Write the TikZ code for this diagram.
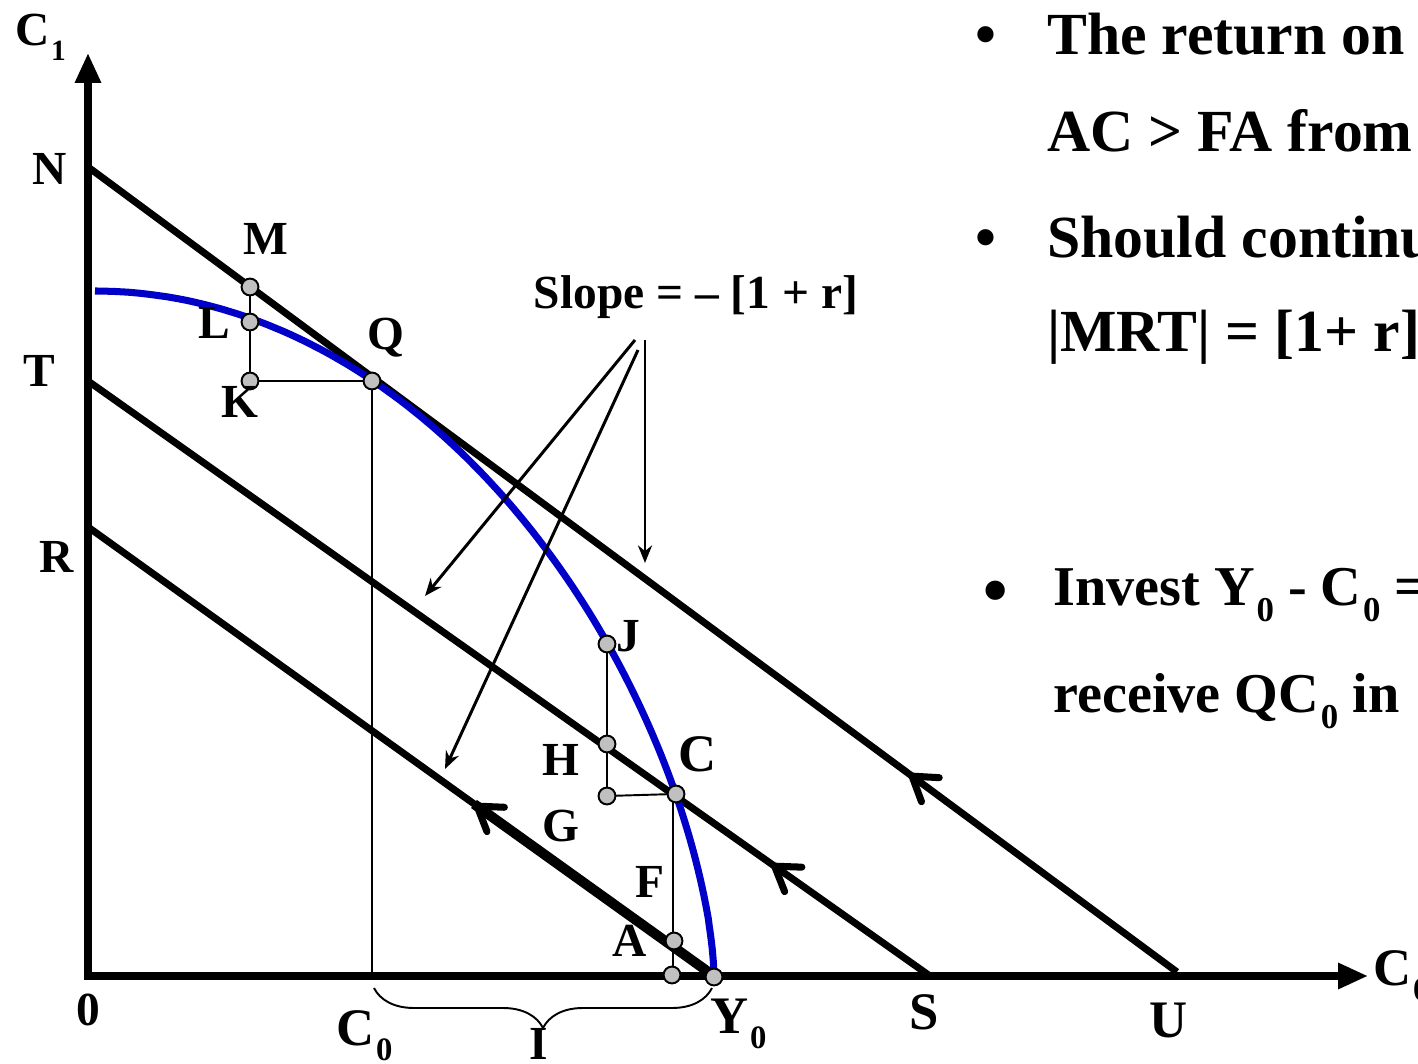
\documentclass[tikz,border=0pt]{standalone}
\usepackage{fontspec}
\setmainfont{Liberation Serif}
\usetikzlibrary{arrows.meta,decorations.markings,decorations.pathreplacing}
\definecolor{ppf}{RGB}{0,0,200}
\definecolor{dotgray}{RGB}{192,192,192}
\newcommand{\sbs}[1]{\kern0.03em\raisebox{-0.3em}{\scalebox{0.62}{#1}}}
\begin{document}
\begin{tikzpicture}[x=0.02cm,y=-0.02cm,
  axisline/.style={line width=4pt,{Triangle[length=17pt,width=14pt]}-{Triangle[length=17pt,width=14pt]}},
  mainline/.style={line width=4pt},
  ppfline/.style={line width=4pt,ppf},
  thinline/.style={line width=1.1pt},
  dot/.style={circle,draw,fill=dotgray,line width=1.1pt,inner sep=0pt,minimum size=9.6pt},
  lbl/.style={font=\fontsize{27}{27}\selectfont\bfseries,inner sep=0pt},
  biglbl/.style={font=\fontsize{30}{30}\selectfont\bfseries,inner sep=0pt},
  callout/.style={line width=1.7pt,-{Stealth[length=10pt,width=8pt]}},
  bodytext/.style={font=\fontsize{34}{34}\selectfont\bfseries,inner sep=0pt,anchor=base west},
  bodytextb/.style={font=\fontsize{32}{32}\selectfont\bfseries,inner sep=0pt,anchor=base west},
  midarrow/.style={postaction={decorate},decoration={markings,mark=at position #1 with {\arrow{Straight Barb[length=13pt,width=17pt,line cap=round,line join=round]}}}}
]
\useasboundingbox (0,0) rectangle (1418,1064);

% axes
\coordinate (O) at (88,976);
\coordinate (Ytop) at (88,53);
\coordinate (Xend) at (1368,976);
\draw[axisline] (Ytop) -- (O) -- (Xend);

% budget lines
\coordinate (N) at (88,167);
\coordinate (U) at (1177,972);
\coordinate (T) at (88,381);
\coordinate (S) at (930,976);
\coordinate (R) at (88,527);
\coordinate (Y0) at (714,976);
\coordinate (Rarr) at (474,804);
\draw[mainline,midarrow=0.246] (U) -- (N);
\draw[mainline,midarrow=0.188] (S) -- (T);
\draw[mainline,midarrow=0.383] (Y0) -- (R);
\draw[line width=5.7pt] (Y0) -- (Rarr);

% production possibility frontier
\draw[ppfline] plot[domain=0:89.5,samples=150,variable=\t] ({95+619*sin(\t)},{976-685*pow(cos(\t),1.25)}) -- (Y0);

% construction lines
\coordinate (Qax) at (372,976);
\draw[thinline] (250,287) -- (250,381) -- (372,381) -- (Qax);
\draw[thinline] (607,644) -- (607,796) -- (675,794);
\draw[thinline] (673,794) -- (673,976);

% dots
\node[dot] (M) at (250,287) {};
\node[dot] (L) at (250,322) {};
\node[dot] (K) at (250,381) {};
\node[dot] (Q) at (372,381) {};
\node[dot] (J) at (607,644) {};
\node[dot] (H) at (607,744) {};
\node[dot] (G) at (607,796) {};
\node[dot] (C) at (676,794) {};
\node[dot] (A) at (674,941) {};
\node[dot] (F) at (672,975) {};
\node[dot] (Yd) at (714,977) {};

% labels
\node[anchor=base west,lbl] (c1lab) at (15,46) {C\sbs{1}};
\node[lbl] (Nlab) at (50,169) {N};
\node[lbl] (Tlab) at (39,371) {T};
\node[lbl] (Rlab) at (57,557) {R};
\node[lbl] (Mlab) at (266,239) {M};
\node[lbl] (Llab) at (214,323) {L};
\node[lbl] (Klab) at (240,402) {K};
\node[lbl] (Qlab) at (386,338) {Q};
\node[lbl] (Jlab) at (628,636) {J};
\node[lbl] (Hlab) at (561,760) {H};
\node[biglbl] (Clab) at (698,754) {C};
\node[lbl] (Glab) at (561,826) {G};
\node[lbl] (Flab) at (650,882) {F};
\node[lbl] (Alab) at (630,941) {A};
\node[lbl] (Olab) at (88,1010) {0};
\node[lbl] (Ilab) at (539,1044) {I};
\node[biglbl] (Slab) at (924,1012) {S};
\node[biglbl] (Ulab) at (1169,1020) {U};
\node[anchor=base west,biglbl] (C0lab) at (336,1045) {C\sbs{0}};
\node[anchor=base west,biglbl] (Y0lab) at (710,1033) {Y\sbs{0}};
\node[anchor=base west,biglbl] (C0axis) at (1373,985) {C\sbs{0}};

% brace for I
\draw[thinline,decorate,decoration={brace,amplitude=0.8cm}] (712,988) -- (374,988);

% slope callout
\node[lbl,font=\fontsize{27}{27}\selectfont\bfseries] (slope) at (696,297) {Slope = – [1 + r]};
\coordinate (s1) at (635,340);
\coordinate (s2) at (638,350);
\coordinate (s3) at (645,340);
\coordinate (e1) at (425,596);
\coordinate (e2) at (445,769);
\coordinate (e3) at (645,563);
\draw[callout] (s1) -- (e1);
\draw[callout] (s2) -- (e2);
\draw[callout] (s3) -- (e3);

% right text
\node[bodytext] (b1) at (975,55) {•};
\node[bodytext] (l1) at (1047,55) {The return on};
\node[bodytext] (l2) at (1047,152) {AC > FA from};
\node[bodytext] (b2) at (975,258) {•};
\node[bodytext] (l3) at (1047,258) {Should continu};
\node[bodytext] (l4) at (1047,352) {|MRT| = [1+ r]};
\node[bodytextb,font=\fontsize{46}{46}\selectfont] (b3) at (981,617) {•};
\node[bodytextb] (l5) at (1053,605) {Invest Y\sbs{0} - C\sbs{0} =};
\node[bodytextb] (l6) at (1053,712) {receive QC\sbs{0} in};
\end{tikzpicture}
\end{document}
